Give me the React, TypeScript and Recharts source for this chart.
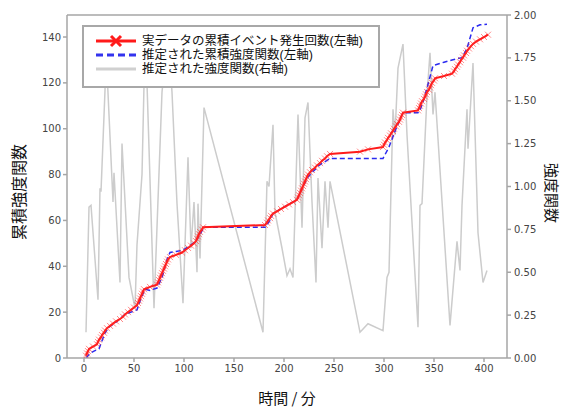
import React from "react";
import { LineChart, Line, XAxis, YAxis, ReferenceLine } from "recharts";

const redTimes = [2,3,4,5,9,13,14,15,17,18,20,21,23,26,29,32,36,39,41,44,47,50,53,54,55,56,57,58,59,60,66,73,74,75,76,77,78,79,80,81,82,83,84,86,92,98,101,104,107,110,112,113,114,115,116,118,119,181,183,184,186,187,189,193,197,201,205,209,213,214,215,216,217,218,219,220,221,222,223,224,226,228,231,233,236,238,241,243,246,276,284,299,300,301,303,304,306,307,309,310,312,313,315,316,317,318,319,334,335,336,337,338,340,341,342,343,345,346,347,348,350,351,360,368,370,371,373,374,376,377,379,380,382,383,385,387,389,392,396,400,404];
const redCounts = [1,2,3,4,5,6,7,8,9,10,11,12,13,14,15,16,17,18,19,20,21,22,23,24,25,26,27,28,29,30,31,32,33,34,35,36,37,38,39,40,41,42,43,44,45,46,47,48,49,50,51,52,53,54,55,56,57,58,59,60,61,62,63,64,65,66,67,68,69,70,71,72,73,74,75,76,77,78,79,80,81,82,83,84,85,86,87,88,89,90,91,92,93,94,95,96,97,98,99,100,101,102,103,104,105,106,107,108,109,110,111,112,113,114,115,116,117,118,119,120,121,122,123,124,125,126,127,128,129,130,131,132,133,134,135,136,137,138,139,140,141];

const blueTimes = [2,6,10,15,21,25,33,41,47,53,57,61,66,73,78,83,86,92,99,106,112,116,120,181,186,189,201,213,218,224,235,246,276,299,305,312,319,334,336,340,345,349,360,368,378,383,389,396,403];
const blueValues = [0,2,3,4,11,13.5,16,19,20,21,26,30,29.5,30.5,35,43,46,46.5,47,49,51,54,57,57,60,63,66,69,74,79,84,87,87,87,92,100,107,107,108,113,121,127.5,129,130,131,135,144,145.3,145.6];

const grayTimes = [2,5,7,14,16,17,21,22,29,30,36,38,45,51,53,58,61,63,70,78,84,88,93,99,104,107,110,113,114,116,120,179,183,185,189,191,198,203,206,209,214,218,221,224,228,232,234,238,241,244,246,276,284,299,303,305,309,311,314,319,323,334,336,338,343,346,349,351,366,373,376,378,383,384,389,394,399,403];
const grayValues = [0.15,0.88,0.89,0.34,0.99,0.97,1.56,1.8,0.91,1.08,0.44,1.25,0.47,0.29,0.66,1.07,1.85,1.6,0.29,1.55,1.9,1.55,0.9,0.32,1.17,0.64,0.91,0.5,0.9,0.58,1.46,0.15,1.03,1.0,1.36,0.85,0.64,0.48,0.52,0.47,1.42,0.76,1.4,1.49,0.91,0.44,1.05,0.64,1.03,0.76,1.03,0.15,0.2,0.16,0.47,0.5,1.45,1.3,1.69,1.83,1.3,0.18,0.89,0.9,1.53,1.78,1.42,1.55,0.19,0.68,0.51,0.89,1.45,1.22,1.72,0.73,0.44,0.51];

const xTicks = [0, 50, 100, 150, 200, 250, 300, 350, 400];
const leftTicks = [0, 20, 40, 60, 80, 100, 120, 140];
const rightTicks = [0, 0.25, 0.5, 0.75, 1.0, 1.25, 1.5, 1.75, 2.0];

const legendLabels = [
  "実データの累積イベント発生回数(左軸)",
  "推定された累積強度関数(左軸)",
  "推定された強度関数(右軸)",
];
const xLabel = "時間 / 分";
const leftLabel = "累積強度関数";
const rightLabel = "強度関数";

const redData = redTimes.map((t, i) => ({ t, v: redCounts[i] }));
const blueData = blueTimes.map((t, i) => ({ t, v: blueValues[i] }));
const grayData = grayTimes.map((t, i) => ({ t, r: grayValues[i] }));

const CJK = '"Noto Sans CJK JP", "Noto Sans", sans-serif';
const LEGFONT = '"Liberation Sans", "Noto Sans CJK JP", sans-serif';
const TICKFONT = '"DejaVu Sans", sans-serif';
const SPINE = "#a6a6a6";

const XDot = (props: any) => {
  const { cx, cy, index } = props;
  if (cx == null || cy == null) return <g key={index} />;
  const s = 3;
  return (
    <path
      key={index}
      d={`M${cx - s},${cy - s}L${cx + s},${cy + s}M${cx - s},${cy + s}L${cx + s},${cy - s}`}
      stroke="rgba(255,40,40,0.55)"
      strokeWidth={1}
      fill="none"
    />
  );
};

const tickStyle = { fill: "#444", fontSize: 10, fontFamily: TICKFONT };

export default function App() {
  return (
    <div style={{ position: "absolute", left: 0, top: 0, width: 564, height: 407, background: "#fff", overflow: "hidden" }}>
      <LineChart width={564} height={407} margin={{ top: 15, right: 0, left: 0, bottom: 0 }}>
        <XAxis
          dataKey="t"
          type="number"
          domain={[-17, 423]}
          ticks={xTicks}
          allowDataOverflow
          height={49}
          stroke={SPINE}
          strokeWidth={1.5}
          tickSize={4}
          tickMargin={3}
          tick={tickStyle}
          tickLine={{ stroke: SPINE }}
        />
        <YAxis
          yAxisId="left"
          type="number"
          domain={[0, 149.6]}
          ticks={leftTicks}
          allowDataOverflow
          width={67}
          stroke={SPINE}
          strokeWidth={1.5}
          tickSize={4}
          tickMargin={2}
          tick={tickStyle}
          tickLine={{ stroke: SPINE }}
        />
        <YAxis
          yAxisId="right"
          orientation="right"
          type="number"
          domain={[0, 2]}
          ticks={rightTicks}
          allowDataOverflow
          width={57}
          stroke={SPINE}
          strokeWidth={1.5}
          tickSize={4}
          tickMargin={3}
          tick={tickStyle}
          tickLine={{ stroke: SPINE }}
          tickFormatter={(v: number) => v.toFixed(2)}
        />
        <ReferenceLine yAxisId="left" y={149.6} stroke={SPINE} strokeWidth={1.5} ifOverflow="visible" />
        <Line
          yAxisId="right"
          data={grayData}
          dataKey="r"
          stroke="#cccccc"
          strokeWidth={1.5}
          dot={false}
          isAnimationActive={false}
        />
        <Line
          yAxisId="left"
          data={blueData}
          dataKey="v"
          stroke="#2a2af0"
          strokeWidth={1.5}
          strokeDasharray="5 3"
          dot={false}
          isAnimationActive={false}
        />
        <Line
          yAxisId="left"
          data={redData}
          dataKey="v"
          stroke="#ff1a1a"
          strokeWidth={2}
          dot={<XDot />}
          isAnimationActive={false}
        />
      </LineChart>

      <div
        style={{
          position: "absolute",
          left: 82,
          top: 25,
          width: 294,
          height: 59,
          border: "2px solid #a8a8a8",
          background: "#fff",
          fontFamily: LEGFONT,
          fontSize: 12.5,
          color: "#111",
        }}
      >
        {legendLabels.map((label, i) => (
          <div key={i} style={{ position: "absolute", left: 11, top: 7 + i * 14, height: 14, display: "flex", alignItems: "center", whiteSpace: "nowrap" }}>
            <svg width={42} height={14} style={{ marginRight: 5, flex: "none" }}>
              {i === 0 && (
                <g>
                  <line x1={1} y1={7} x2={41} y2={7} stroke="#ff1a1a" strokeWidth={3} />
                  <path d="M16,2L26,12M16,12L26,2" stroke="#ff1a1a" strokeWidth={3} />
                </g>
              )}
              {i === 1 && <line x1={1} y1={7} x2={41} y2={7} stroke="#3333ee" strokeWidth={3} strokeDasharray="7 4" />}
              {i === 2 && <line x1={1} y1={7} x2={41} y2={7} stroke="#d0d0d0" strokeWidth={3} />}
            </svg>
            <span style={{ lineHeight: "13px", display: "inline-block", height: 13 }}>{label}</span>
          </div>
        ))}
      </div>

      <div
        style={{
          position: "absolute",
          left: 18,
          top: 192,
          transform: "translate(-50%, -50%) rotate(-90deg)",
          whiteSpace: "nowrap",
          fontFamily: CJK,
          fontSize: 16,
          lineHeight: "18px",
          color: "#111",
        }}
      >
        {leftLabel}
      </div>
      <div
        style={{
          position: "absolute",
          left: 552,
          top: 193,
          transform: "translate(-50%, -50%) rotate(90deg)",
          whiteSpace: "nowrap",
          fontFamily: CJK,
          fontSize: 15,
          lineHeight: "17px",
          color: "#111",
        }}
      >
        {rightLabel}
      </div>
      <div
        style={{
          position: "absolute",
          left: 287,
          top: 397,
          transform: "translate(-50%, -50%)",
          whiteSpace: "nowrap",
          fontFamily: CJK,
          fontSize: 15,
          lineHeight: "17px",
          color: "#111",
        }}
      >
        {xLabel}
      </div>
    </div>
  );
}
